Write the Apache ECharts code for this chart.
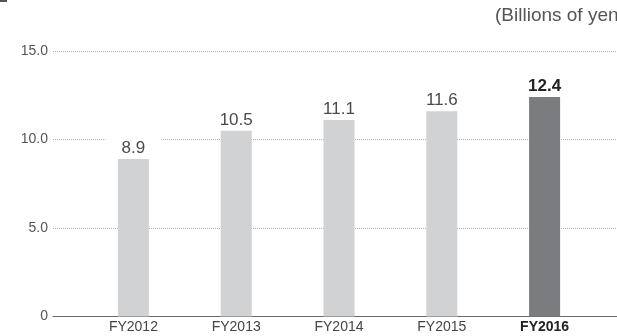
<!DOCTYPE html>
<html>
<head>
<meta charset="utf-8">
<script src="https://cdn.jsdelivr.net/npm/echarts@6/dist/echarts.min.js"></script>
<style>
  html, body { margin: 0; padding: 0; background: #fff; }
  #chart { width: 617px; height: 336px; }
</style>
</head>
<body>
<div id="chart"></div>
<script>
// Fiscal years and amounts (billions of yen)
var categories = ['FY2012', 'FY2013', 'FY2014', 'FY2015', 'FY2016'];
var values = [8.9, 10.5, 11.1, 11.6, 12.4];
var yTicks = [0, 5, 10, 15];
var unitLabel = '(Billions of yen)';
var highlightIndex = 4;

var FONT = 'Liberation Sans, Arial, Helvetica, sans-serif';
var lightBar = '#d1d2d4';
var darkBar = '#7b7c80';

var chart = echarts.init(document.getElementById('chart'), null, { renderer: 'canvas' });

var barData = values.map(function (v, i) {
  var hi = i === highlightIndex;
  return {
    value: v,
    itemStyle: { color: hi ? darkBar : lightBar },
    label: {
      fontWeight: hi ? 'bold' : 'normal',
      color: hi ? '#222' : '#4a4a4a'
    }
  };
});

var option = {
  animation: false,
  backgroundColor: '#fff',
  textStyle: { fontFamily: FONT },
  graphic: [
    { type: 'rect', left: 0, top: 0, shape: { width: 7, height: 2 }, style: { fill: '#555' } },
    {
      type: 'text', left: 495, top: 6,
      style: { text: unitLabel, font: '19px ' + FONT, fill: '#555' }
    }
  ],
  grid: [
    // background grid: value gridlines and baseline across full width
    { left: 53, right: 0, top: 51, bottom: 19.5 },
    // bar area
    { left: 82, right: 21, top: 51, bottom: 19.5 }
  ],
  xAxis: [
    {
      gridIndex: 0, type: 'value', min: 0, max: 1,
      axisLine: { show: true, onZero: false, lineStyle: { color: '#6a6a6a', width: 1 } },
      axisTick: { show: false }, axisLabel: { show: false }, splitLine: { show: false }
    },
    {
      gridIndex: 1, type: 'category', data: categories,
      axisLine: { show: false }, axisTick: { show: false },
      axisLabel: {
        margin: 4, fontSize: 14, color: '#444', fontFamily: FONT,
        formatter: function (v, i) {
          return i === highlightIndex ? '{b|' + v + '}' : v;
        },
        rich: { b: { fontWeight: 'bold', fontSize: 14, color: '#222', fontFamily: FONT } }
      }
    }
  ],
  yAxis: [
    {
      gridIndex: 0, type: 'value', min: 0, max: 15, interval: 5,
      axisLine: { show: false }, axisTick: { show: false },
      axisLabel: {
        margin: 5, fontSize: 14, color: '#555', fontFamily: FONT,
        formatter: function (v) {
          return yTicks.indexOf(v) < 0 ? '' : (v === 0 ? '0' : v.toFixed(1));
        }
      },
      splitLine: {
        show: true,
        lineStyle: { color: '#b0b0b0', type: [1, 1], width: 1 }
      }
    },
    {
      gridIndex: 1, type: 'value', min: 0, max: 15, interval: 5, show: false,
      splitLine: { show: false }
    }
  ],
  series: [
    {
      type: 'bar', xAxisIndex: 1, yAxisIndex: 1,
      data: barData, barWidth: 31, z: 3,
      label: {
        show: true, position: 'top', distance: 2,
        fontSize: 17, fontFamily: FONT,
        backgroundColor: '#fff', padding: [1, 16, 0, 16],
        formatter: function (p) { return p.value.toFixed(1); }
      }
    }
  ]
};

chart.setOption(option);
</script>
</body>
</html>
